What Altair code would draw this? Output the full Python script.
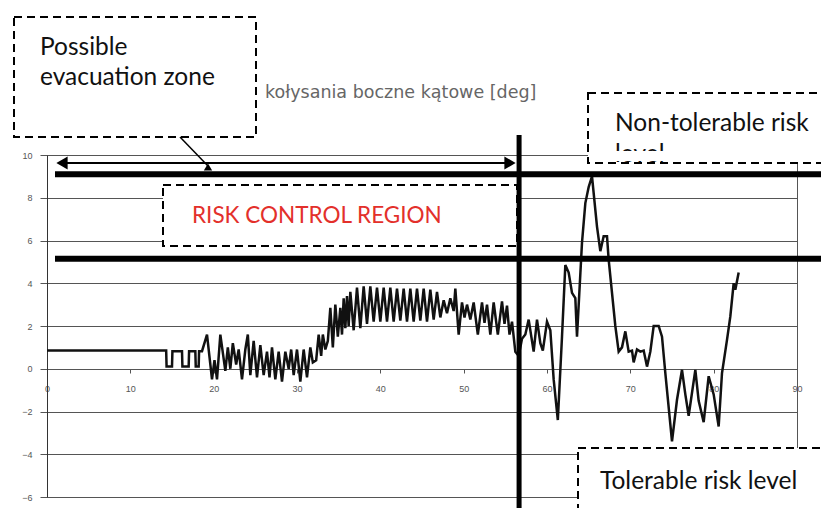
import altair as alt
import pandas as pd

# ---- data (time [s], roll angle [deg]) ----
t_calm = [0, 14.3, 14.35, 15.0, 15.05, 16.2, 16.25, 17.0, 17.05, 17.8, 17.85, 18.2, 18.25, 18.6]
v_calm = [0.85, 0.85, 0.1, 0.1, 0.82, 0.82, 0.1, 0.1, 0.82, 0.82, 0.1, 0.1, 0.82, 0.82]

t_low = [19.2, 19.8, 20.1, 20.4, 20.8, 21.4, 21.7, 22.0, 22.3, 22.7, 23.0, 23.4, 23.8, 24.1, 24.4,
         24.8, 25.2, 25.6, 26.0, 26.4, 26.7, 27.0, 27.4, 27.8, 28.2, 28.6, 29.0, 29.3, 29.6, 30.0,
         30.4, 30.8, 31.2, 31.6, 31.9]
v_low = [1.6, -0.5, 0.4, -0.5, 1.6, -0.1, 1.0, 0.0, 1.2, 0.2, 0.9, -0.5, 0.9, 1.6, -0.3,
         1.3, -0.4, 1.1, -0.3, 0.8, -0.4, 1.0, -0.5, 0.8, -0.6, 0.8, 0.0, 0.9, -0.3, 0.9,
         -0.6, 0.9, -0.4, 1.0, 0.3]

t_rise = [32.3, 32.6, 32.9, 33.1, 33.4, 33.7, 34.0, 34.3, 34.6, 34.9, 35.2, 35.4, 35.6, 35.8,
          36.0, 36.2, 36.4, 36.8]
v_rise = [0.4, 1.6, 0.6, 1.6, 0.9, 1.3, 2.85, 1.0, 3.0, 1.5, 2.85, 1.6, 3.3, 1.9,
          3.4, 2.0, 3.6, 1.8]

t_plateau = [37.2, 37.6, 38.0, 38.4, 38.8, 39.2, 39.6, 40.0, 40.4, 40.8, 41.2, 41.6, 42.0, 42.4,
             42.8, 43.2, 43.6, 44.0, 44.4, 44.8, 45.2, 45.6, 46.0, 46.4, 46.8, 47.2, 47.6, 48.0,
             48.4, 48.8, 49.0, 49.4]
v_plateau = [3.8, 1.9, 3.85, 2.1, 3.85, 2.2, 3.8, 2.2, 3.8, 2.2, 3.8, 2.2, 3.75, 2.25,
             3.75, 2.2, 3.75, 2.2, 3.75, 2.25, 3.75, 2.2, 3.7, 2.3, 3.6, 2.4, 3.2, 2.6,
             3.3, 2.7, 3.75, 1.6]

t_mid = [49.8, 50.1, 50.4, 50.8, 51.2, 51.7, 52.2, 52.5, 52.8, 53.2, 53.6, 54.1, 54.6, 54.9,
         55.2, 55.5, 55.8, 56.2, 56.6, 57.0]
v_mid = [3.1, 2.4, 3.0, 2.3, 3.1, 1.6, 3.1, 2.15, 3.0, 1.6, 3.1, 1.6, 3.15, 2.1,
         2.95, 1.6, 2.2, 0.8, 0.6, 1.4]

t_storm = [57.4, 57.8, 58.4, 58.8, 59.2, 59.5, 60.0, 60.4, 60.8, 61.3, 61.8, 62.2, 62.6, 63.0,
           63.4, 63.6, 64.2, 64.6, 65.0, 65.4, 66.0, 66.4, 66.8, 67.2, 67.4, 68.2, 68.6, 69.0,
           69.4, 69.8, 70.2, 70.4, 70.8, 71.2, 71.6, 72.0, 72.4, 72.8, 73.4, 73.8, 74.2, 75.0,
           75.6, 76.2, 76.6, 77.0, 77.8, 78.2, 78.8, 79.4, 80.0, 80.6, 81.0, 81.6, 82.0, 82.4,
           82.6, 83.0]
v_storm = [1.6, 2.3, 0.8, 2.3, 1.2, 0.85, 2.2, 1.8, -0.5, -2.4, 1.5, 4.85, 4.5, 3.55,
           3.3, 1.5, 5.9, 7.75, 8.5, 9.0, 6.65, 5.5, 6.2, 6.2, 5.1, 2.0, 0.8, 1.0,
           1.75, 0.8, 0.85, 0.3, 0.9, 0.8, 0.85, 0.1, 0.8, 2.0, 2.0, 1.5, -0.2, -3.4,
           -1.45, -0.05, -1.2, -2.2, -0.05, -1.5, -2.5, -0.35, -1.2, -2.7, -0.2, 1.35, 2.45, 4.0,
           3.7, 4.5]

x_ticks = [0, 10, 20, 30, 40, 50, 60, 70, 80, 90]
y_ticks = [-6, -4, -2, 0, 2, 4, 6, 8, 10]

risk_levels = [9.1, 5.15]      # non-tolerable / tolerable limits [deg]
decision_time = 56.65          # vertical separator [s]

T = t_calm + t_low + t_rise + t_plateau + t_mid + t_storm
V = v_calm + v_low + v_rise + v_plateau + v_mid + v_storm
df = pd.DataFrame({"t": T, "v": V})

# plot-area origin on the page (for pixel-placed annotations)
OX, OY = 47, 155
W, H = 750, 342
SVG_W, SVG_H = 813, 500
one = pd.DataFrame({"k": [0]})
ann_font = "Lato"
ann_size = 24.5

x_scale = alt.Scale(domain=[0, 90], nice=False, zero=False)
y_scale = alt.Scale(domain=[-6, 10], nice=False)

line = alt.Chart(df).mark_line(color="#111111", strokeWidth=2.5, clip=False).encode(
    x=alt.X("t:Q", scale=x_scale, title=None,
            axis=alt.Axis(values=x_ticks, grid=False, offset=-128, tickSize=4, labelPadding=11,
                          labelFont="Liberation Sans", labelFontSize=9, labelColor="#555555",
                          domainColor="#555555", tickColor="#555555", labelFlush=False)),
    y=alt.Y("v:Q", scale=y_scale, title=None,
            axis=alt.Axis(values=y_ticks, grid=True, gridColor="#555555", gridWidth=1,
                          tickSize=7, labelPadding=8, labelFont="Liberation Sans",
                          labelFontSize=9, labelColor="#555555", domainColor="#333333",
                          tickColor="#555555")),
)


def box(x0, x1, y0, y1):
    return alt.Chart(one).mark_rect(fill="white", stroke="black", strokeWidth=2,
                                    strokeDash=[8, 5], clip=False).encode(
        x=alt.value(x0 - OX), x2=alt.value(x1 - OX),
        y=alt.value(y0 - OY), y2=alt.value(y1 - OY))


def label(txt, px, py, size=ann_size, color="#111111", font=ann_font):
    return alt.Chart(one).mark_text(text=txt, align="left", baseline="alphabetic",
                                    font=font, fontSize=size, color=color, clip=False).encode(
        x=alt.value(px - OX), y=alt.value(py - OY))


def white(x0, x1, y0, y1):
    return alt.Chart(one).mark_rect(fill="white", clip=False).encode(
        x=alt.value(x0 - OX), x2=alt.value(x1 - OX),
        y=alt.value(y0 - OY), y2=alt.value(y1 - OY))


evac_box = box(14, 256, 17, 137)
evac_t1 = label("Possible", 40, 55)
evac_t2 = label("evacuation zone", 40, 85)
axis_title = label("kołysania boczne kątowe [deg]", 265, 98, size=17.5, color="#666666",
                   font="DejaVu Sans")

pointer = alt.Chart(one).mark_rule(color="black", strokeWidth=1.5, clip=False).encode(
    x=alt.value(180 - OX), x2=alt.value(208 - OX), y=alt.value(137 - OY), y2=alt.value(166 - OY))
pointer_head = alt.Chart(one).mark_point(shape="triangle-up", filled=True, color="black",
                                         size=70, opacity=1, clip=False).encode(
    x=alt.value(208 - OX), y=alt.value(167 - OY))

arrow_shaft = alt.Chart(one).mark_rule(color="black", strokeWidth=2, clip=False).encode(
    x=alt.value(58 - OX), x2=alt.value(512 - OX), y=alt.value(163 - OY))
arrow_l = alt.Chart(one).mark_point(shape="triangle-left", filled=True, color="black",
                                    size=170, opacity=1, clip=False).encode(
    x=alt.value(62 - OX), y=alt.value(163 - OY))
arrow_r = alt.Chart(one).mark_point(shape="triangle-right", filled=True, color="black",
                                    size=170, opacity=1, clip=False).encode(
    x=alt.value(510 - OX), y=alt.value(163 - OY))

risk_box = box(163, 517, 185, 246)
risk_t = label("RISK CONTROL REGION", 192, 223, size=22.5, color="#e3302b")

nontol_box = box(588, 840, 93, 163)
nontol_t1 = label("Non-tolerable risk", 615, 131)
nontol_t2 = label("level", 615, 162)
nontol_cover = white(600, 700, 151, 161)

tol_box = box(578, 840, 448, 530)
tol_t = label("Tolerable risk level", 600, 489)

risk_lines = [
    alt.Chart(one).mark_rule(color="black", strokeWidth=6, clip=False).encode(
        x=alt.value(55 - OX), x2=alt.value(840 - OX), y=alt.datum(lv))
    for lv in risk_levels
]
vline = alt.Chart(one).mark_rule(color="black", strokeWidth=5, clip=False).encode(
    x=alt.datum(decision_time), y=alt.value(135 - OY), y2=alt.value(530 - OY))

chart = alt.layer(
    line, evac_box, evac_t1, evac_t2, axis_title, risk_box, risk_t,
    nontol_box, nontol_t1, nontol_t2, nontol_cover, tol_box, tol_t,
    arrow_shaft, arrow_l, arrow_r, pointer, pointer_head, *risk_lines, vline
).properties(
    width=W, height=H,
    autosize=alt.AutoSizeParams(type="none"),
    padding={"left": OX - 8, "top": OY - 8, "right": SVG_W - (OX - 8) - W,
             "bottom": SVG_H - (OY - 8) - H},
    background="white",
).configure_view(stroke="#555555", strokeWidth=1)

chart.save("out.html", embed_options={"renderer": "svg", "actions": False})
